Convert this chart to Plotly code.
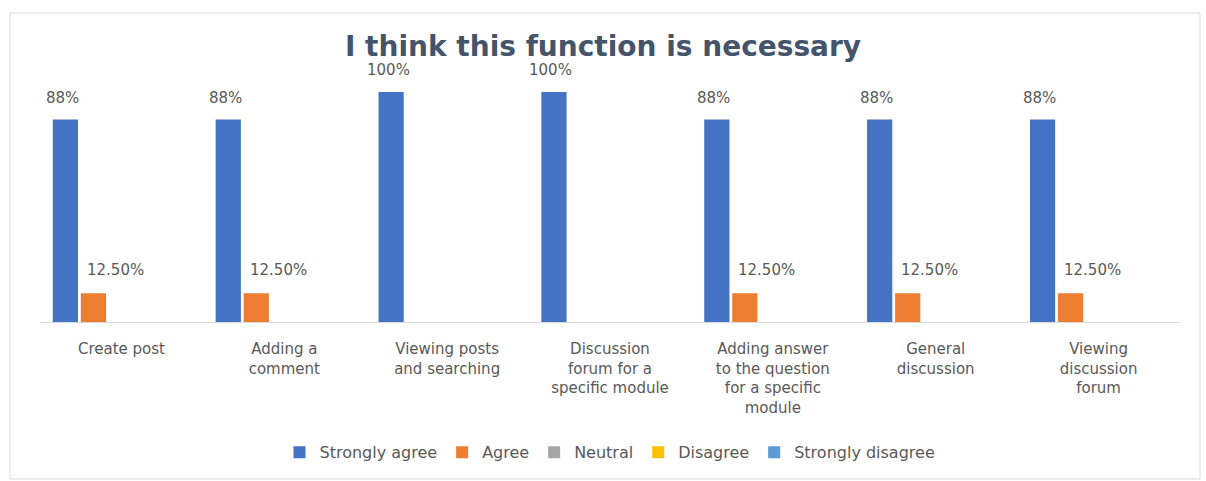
import plotly.graph_objects as go

# Survey results: share of respondents per answer, for each forum function
categories = [
    "Create post",
    "Adding a<br>comment",
    "Viewing posts<br>and searching",
    "Discussion<br>forum for a<br>specific module",
    "Adding answer<br>to the question<br>for a specific<br>module",
    "General<br>discussion",
    "Viewing<br>discussion<br>forum",
]
strongly_agree = [0.88, 0.88, 1.00, 1.00, 0.88, 0.88, 0.88]
agree = [0.125, 0.125, None, None, 0.125, 0.125, 0.125]
neutral = [None] * 7
disagree = [None] * 7
strongly_disagree = [None] * 7

series_names = ["Strongly agree", "Agree", "Neutral", "Disagree", "Strongly disagree"]
series_values = [strongly_agree, agree, neutral, disagree, strongly_disagree]
series_colors = ["#4472C4", "#ED7D31", "#A5A5A5", "#FFC000", "#5B9BD5"]

FONT = "DejaVu Sans"
TEXT = "#595959"

fig = go.Figure()
for name, vals, col in zip(series_names, series_values, series_colors):
    fig.add_trace(go.Bar(
        x=categories, y=vals, name=name,
        marker=dict(color=col, line=dict(width=0)),
    ))

# Geometry of the plot area, used to place labels next to their bars
W, H = 1206, 481
L, R, T, B = 40, 26, 92, 156
plot_w = W - L - R
cat_w = plot_w / len(categories)
group_w = cat_w * (1 - 0.14)
slot = group_w / 5

def slot_offset(i):
    return -group_w / 2 + slot * (i + 0.5)

# Data labels above the visible bars
for c, v in zip(categories, strongly_agree):
    if v is not None:
        fig.add_annotation(x=c, y=v, text=f"{v:.0%}", showarrow=False,
                           xshift=slot_offset(0) - 3, yshift=22, yanchor="middle",
                           font=dict(family=FONT, size=15, color=TEXT))
for c, v in zip(categories, agree):
    if v is not None:
        fig.add_annotation(x=c, y=v, text=f"{v:.2%}", showarrow=False,
                           xshift=slot_offset(1) + 22, yshift=23, yanchor="middle",
                           font=dict(family=FONT, size=15, color=TEXT))

# Outer chart frame
def px_x(p):
    return (p - L) / plot_w

def px_y(p):
    return (H - B - p) / (H - T - B)

fig.add_shape(type="rect", xref="paper", yref="paper",
              x0=px_x(10), x1=px_x(1200), y0=px_y(484), y1=px_y(12),
              line=dict(color="#D9D9D9", width=1), fillcolor="rgba(0,0,0,0)",
              layer="below")

fig.update_layout(
    width=W, height=H,
    margin=dict(l=L, r=R, t=T, b=B),
    paper_bgcolor="white", plot_bgcolor="white",
    barmode="group", bargap=0.14, bargroupgap=0.1,
    title=dict(text="<b>I think this function is necessary</b>",
               x=0.5, xanchor="center", y=1 - 46 / H, yanchor="middle",
               yref="container",
               font=dict(family=FONT, size=28, color="#44546A")),
    font=dict(family=FONT, size=15, color=TEXT),
    xaxis=dict(showline=True, linecolor="#D9D9D9", linewidth=1,
               ticks="", showgrid=False, ticklabelstandoff=13,
               tickfont=dict(family=FONT, size=15, color=TEXT)),
    yaxis=dict(range=[0, 1.0], visible=False, showgrid=False),
    legend=dict(orientation="h", x=0.5, xanchor="center",
                y=px_y(457), yanchor="middle",
                font=dict(family=FONT, size=16, color=TEXT),
                itemwidth=30, traceorder="normal"),
    showlegend=True,
)

fig.write_html("out.html")
